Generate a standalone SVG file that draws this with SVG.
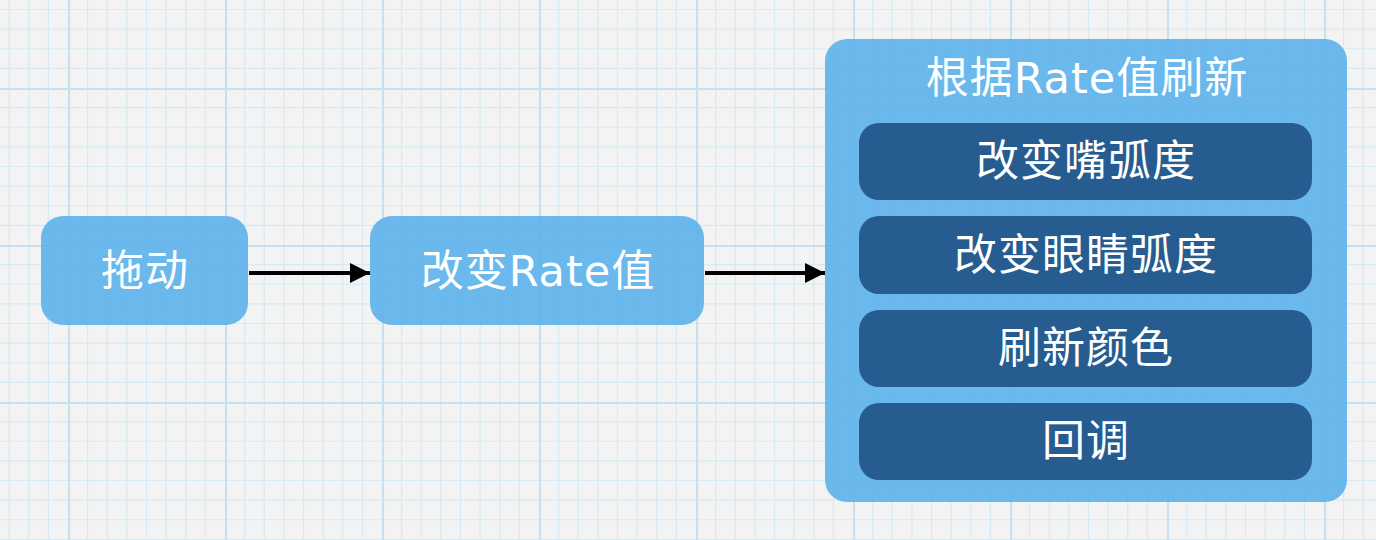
<svg xmlns="http://www.w3.org/2000/svg" width="1376" height="540" viewBox="0 0 1376 540">
<defs>
<pattern id="grid" x="68" y="88" width="157" height="157" patternUnits="userSpaceOnUse">
<g stroke="#d6e9f4" stroke-width="1.2">
<path d="M19.6 0V157M39.25 0V157M58.9 0V157M78.5 0V157M98.1 0V157M117.75 0V157M137.4 0V157"/>
<path d="M0 19.6H157M0 39.25H157M0 58.9H157M0 78.5H157M0 98.1H157M0 117.75H157M0 137.4H157"/>
</g>
<path d="M1 0V157M0 1H157" stroke="#c6e0f0" stroke-width="2.2"/>
</pattern>
<marker id="arr" viewBox="0 0 10 10" refX="10" refY="5" markerWidth="5" markerHeight="5" orient="auto" markerUnits="strokeWidth">
<path d="M0 0L10 5L0 10Z" fill="#000"/>
</marker>
<style>
.light{fill:#5fb3ec;fill-opacity:0.92}
.dark{fill:#265c8f}
.t{font-family:"DejaVu Sans","Noto Sans CJK SC",sans-serif;font-size:43px;letter-spacing:1px;fill:#fff;text-anchor:middle;dominant-baseline:central}
.c{stroke:#000;stroke-width:4;fill:none}
</style>
</defs>
<rect width="1376" height="540" fill="#f3f3f3"/>
<rect width="1376" height="540" fill="url(#grid)"/>
<g id="connectors">
<path class="c" d="M249 273H370" marker-end="url(#arr)"/>
<path class="c" d="M705 273H825" marker-end="url(#arr)"/>
</g>
<g id="drag">
<rect class="light" x="41" y="216" width="207" height="109" rx="22"/>
<text class="t" x="145" y="271">拖动</text>
</g>
<g id="changeRate">
<rect class="light" x="370" y="216" width="334" height="109" rx="22"/>
<text class="t" x="538" y="271">改变Rate值</text>
</g>
<g id="refresh">
<rect class="light" x="825" y="39" width="522" height="463" rx="22"/>
<text class="t" x="1087" y="78">根据Rate值刷新</text>
</g>
<g id="mouth">
<rect class="dark" x="859" y="123" width="453" height="77" rx="20"/>
<text class="t" x="1086" y="161">改变嘴弧度</text>
</g>
<g id="eyes">
<rect class="dark" x="859" y="216" width="453" height="78" rx="20"/>
<text class="t" x="1086" y="255">改变眼睛弧度</text>
</g>
<g id="color">
<rect class="dark" x="859" y="310" width="453" height="77" rx="20"/>
<text class="t" x="1086" y="348">刷新颜色</text>
</g>
<g id="callback">
<rect class="dark" x="859" y="403" width="453" height="77" rx="20"/>
<text class="t" x="1086" y="441">回调</text>
</g>
</svg>
